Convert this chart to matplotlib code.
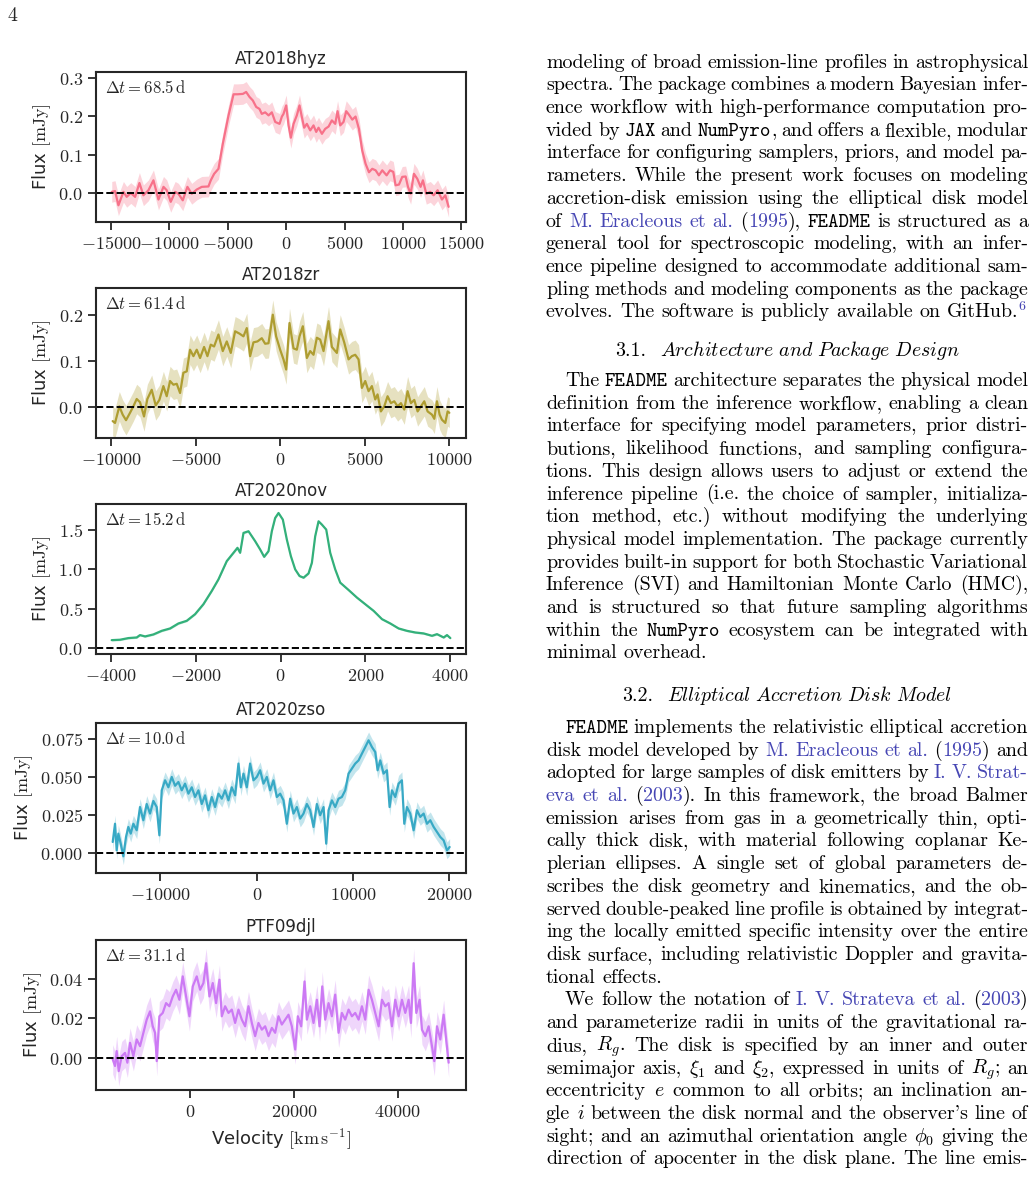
import matplotlib
matplotlib.use("Agg")
import matplotlib.pyplot as plt
import seaborn as sns
import numpy as np
from matplotlib.ticker import FuncFormatter, FixedLocator

# spectra (velocity in km/s, flux in mJy)
hyz_v = [-14940, -14660, -14370, -13940, -13660, -13310, -12940, -12570, -12230, -11800,
         -11370, -10940, -10510, -10230, -9890, -9510, -9230, -8860, -8460, -8090,
         -7660, -7230, -6660, -6460, -6170, -5800, -5430, -4940, -4510, -4170,
         -3710, -3430, -3140, -2860, -2570, -2290, -2090, -1800, -1510, -1230,
         -940, -570, -370, -230, 0, 200, 400, 630, 910, 1140,
         1340, 1540, 1770, 2060, 2340, 2570, 2770, 3060, 3340, 3630,
         3910, 4200, 4400, 4630, 4910, 5140, 5370, 5660, 5940, 6230,
         6510, 6800, 7090, 7370, 7660, 7940, 8230, 8600, 8890, 9170,
         9370, 9660, 9940, 10230, 10430, 10660, 10940, 11230, 11510, 11710,
         12000, 12340, 12630, 12970, 13340, 13630, 13910]
hyz_f = [0.003, 0.005, -0.032, 0.003, -0.010, 0.000, -0.010, 0.026, -0.006, 0.007,
         0.033, -0.017, 0.016, 0.007, -0.023, 0.003, -0.002, -0.019, 0.016, -0.002,
         0.009, 0.016, 0.017, 0.033, 0.050, 0.063, 0.128, 0.202, 0.257, 0.257,
         0.258, 0.263, 0.250, 0.241, 0.224, 0.219, 0.206, 0.210, 0.202, 0.210,
         0.185, 0.180, 0.199, 0.206, 0.228, 0.176, 0.144, 0.180, 0.202, 0.228,
         0.198, 0.170, 0.180, 0.163, 0.176, 0.159, 0.170, 0.154, 0.167, 0.173,
         0.189, 0.180, 0.213, 0.176, 0.185, 0.213, 0.204, 0.191, 0.199, 0.167,
         0.111, 0.076, 0.054, 0.063, 0.059, 0.046, 0.059, 0.046, 0.059, 0.055,
         0.020, 0.022, 0.042, 0.043, 0.016, -0.002, 0.050, 0.037, 0.016, 0.033,
         -0.002, 0.003, -0.006, 0.007, -0.017, -0.006, -0.036]

zr_v = [-9900, -9760, -9505, -9308, -9110, -8874, -8677, -8480, -8282, -8046,
        -7849, -7592, -7356, -7139, -6902, -6705, -6508, -6310, -6113, -5916,
        -5719, -5522, -5324, -5127, -4930, -4733, -4496, -4299, -4102, -3905,
        -3648, -3392, -3155, -2919, -2662, -2406, -2169, -1972, -1775, -1578,
        -1341, -1085, -887, -690, -434, -237, 0, 197, 355, 552,
        789, 986, 1144, 1341, 1578, 1775, 1972, 2169, 2366, 2564,
        2859, 3057, 3352, 3550, 3786, 4043, 4240, 4437, 4634, 4831,
        5029, 5226, 5423, 5620, 5758, 5955, 6153, 6350, 6547, 6744,
        6942, 7139, 7336, 7533, 7730, 7928, 8125, 8322, 8519, 8716,
        8973, 9111, 9268, 9426, 9564, 9761, 9899, 10000]
zr_f = [-0.030, -0.034, 0.002, -0.016, -0.028, -0.012, 0.002, 0.018, 0.011, -0.020,
        0.018, 0.038, 0.004, 0.016, 0.046, 0.024, 0.057, 0.049, 0.051, 0.031,
        0.075, 0.078, 0.125, 0.111, 0.125, 0.107, 0.131, 0.111, 0.136, 0.132,
        0.158, 0.122, 0.143, 0.118, 0.165, 0.160, 0.154, 0.172, 0.111, 0.141,
        0.143, 0.150, 0.138, 0.139, 0.201, 0.154, 0.125, 0.104, 0.082, 0.183,
        0.128, 0.125, 0.154, 0.176, 0.107, 0.122, 0.114, 0.151, 0.147, 0.122,
        0.187, 0.131, 0.118, 0.169, 0.141, 0.104, 0.111, 0.114, 0.104, 0.042,
        0.057, 0.035, 0.046, 0.017, 0.028, -0.009, 0.002, 0.024, 0.009, 0.013,
        0.002, 0.009, -0.005, 0.035, 0.009, 0.016, -0.009, 0.002, 0.013, -0.009,
        -0.016, -0.025, 0.013, -0.016, -0.027, -0.034, -0.009, -0.012]

nov_v = [-3981, -3785, -3588, -3391, -3313, -3194, -2998, -2801, -2604, -2408,
         -2211, -2014, -1818, -1621, -1463, -1267, -1109, -1015, -952, -873,
         -755, -598, -480, -386, -283, -205, -126, -47, 55, 149,
         244, 346, 448, 543, 661, 740, 818, 897, 976, 1078,
         1172, 1290, 1408, 1605, 1802, 1998, 2195, 2392, 2589, 2785,
         2982, 3179, 3375, 3572, 3690, 3847, 3926, 4005]
nov_f = [0.100, 0.105, 0.126, 0.134, 0.164, 0.147, 0.172, 0.218, 0.248, 0.311,
         0.345, 0.429, 0.555, 0.723, 0.870, 1.101, 1.206, 1.269, 1.206, 1.458,
         1.479, 1.353, 1.248, 1.155, 1.227, 1.479, 1.647, 1.710, 1.626, 1.374,
         1.164, 0.996, 0.912, 0.891, 0.945, 1.080, 1.416, 1.605, 1.563, 1.500,
         1.206, 0.996, 0.828, 0.735, 0.639, 0.555, 0.471, 0.366, 0.311, 0.248,
         0.218, 0.197, 0.185, 0.155, 0.176, 0.134, 0.164, 0.126]

zso_v = [-14960, -14720, -14550, -14375, -14130, -13855, -13580, -13335, -13090, -12815,
         -12470, -12125, -11780, -11430, -11085, -10740, -10395, -10115, -9870, -9525,
         -9180, -8830, -8485, -8140, -7795, -7450, -7100, -6755, -6410, -6060,
         -5715, -5370, -5025, -4675, -4330, -3985, -3635, -3290, -2945, -2600,
         -2250, -1905, -1660, -1385, -1040, -695, -345, 0, 345, 695,
         1040, 1385, 1730, 2080, 2425, 2770, 3115, 3465, 3810, 4155,
         4505, 4850, 5195, 5540, 5890, 6235, 6580, 6930, 7205, 7450,
         7795, 8140, 8485, 8830, 9180, 9525, 9870, 10220, 10565, 10910,
         11260, 11605, 11950, 12295, 12540, 12815, 13160, 13510, 13785, 14030,
         14375, 14720, 15065, 15310, 15585, 15930, 16280, 16625, 16970, 17320,
         17665, 18010, 18360, 18705, 19050, 19395, 19745, 20020]
zso_f = [0.0070, 0.0190, 0.0015, 0.0125, 0.0060, -0.0024, 0.0103, 0.0169, 0.0125, 0.0190,
         0.0147, 0.0300, 0.0213, 0.0320, 0.0257, 0.0340, 0.0300, 0.0114, 0.0410, 0.0476,
         0.0430, 0.0498, 0.0440, 0.0465, 0.0410, 0.0454, 0.0388, 0.0430, 0.0366, 0.0410,
         0.0320, 0.0377, 0.0279, 0.0366, 0.0300, 0.0388, 0.0355, 0.0410, 0.0344, 0.0430,
         0.0377, 0.0586, 0.0430, 0.0520, 0.0430, 0.0586, 0.0476, 0.0498, 0.0542, 0.0454,
         0.0498, 0.0410, 0.0476, 0.0366, 0.0388, 0.0344, 0.0190, 0.0355, 0.0257, 0.0300,
         0.0224, 0.0257, 0.0320, 0.0279, 0.0169, 0.0320, 0.0246, 0.0300, 0.0059, 0.0279,
         0.0344, 0.0300, 0.0355, 0.0366, 0.0410, 0.0520, 0.0553, 0.0586, 0.0607, 0.0651,
         0.0695, 0.0739, 0.0695, 0.0662, 0.0542, 0.0607, 0.0520, 0.0542, 0.0300, 0.0410,
         0.0366, 0.0454, 0.0476, 0.0190, 0.0300, 0.0257, 0.0147, 0.0279, 0.0235, 0.0257,
         0.0190, 0.0213, 0.0169, 0.0136, 0.0103, 0.0081, 0.0015, 0.0037]

djl_v = [-14920, -14470, -14150, -13760, -13180, -12540, -12090, -11575, -10930, -10290,
         -9650, -9000, -8360, -7720, -7200, -6750, -6430, -5920, -5270, -4630,
         -3990, -3340, -2700, -2060, -1415, -770, -130, 515, 1285, 1930,
         2570, 3090, 3730, 4370, 5015, 5660, 6110, 6750, 7400, 8040,
         8680, 9325, 9970, 10610, 11250, 11900, 12540, 13180, 13830, 14470,
         15110, 15760, 16400, 17040, 17680, 18330, 18970, 19610, 20260, 20770,
         21410, 22060, 22510, 23150, 23790, 24440, 24950, 25470, 26040, 26690,
         27330, 27970, 28620, 29260, 29900, 30550, 31190, 31830, 32480, 33120,
         33760, 34410, 35050, 35690, 36340, 36980, 37620, 38260, 38910, 39550,
         40190, 40840, 41480, 42120, 42570, 43090, 43600, 44240, 44690, 45340,
         45980, 46620, 47070, 47590, 48230, 48870, 49390, 49840]
djl_f = [-0.0008, -0.0042, 0.0034, -0.0068, 0.0008, 0.0025, -0.0025, 0.0076, 0.0008, 0.0093,
         0.0059, 0.0127, 0.0194, 0.0236, 0.0160, 0.0127, -0.0017, 0.0211, 0.0228, 0.0278,
         0.0262, 0.0312, 0.0346, 0.0295, 0.0414, 0.0312, 0.0211, 0.0363, 0.0414, 0.0346,
         0.0380, 0.0481, 0.0312, 0.0380, 0.0278, 0.0397, 0.0211, 0.0262, 0.0228, 0.0245,
         0.0177, 0.0245, 0.0194, 0.0160, 0.0262, 0.0177, 0.0110, 0.0177, 0.0143, 0.0160,
         0.0110, 0.0152, 0.0127, 0.0211, 0.0169, 0.0194, 0.0219, 0.0160, 0.0042, 0.0211,
         0.0160, 0.0388, 0.0194, 0.0262, 0.0177, 0.0295, 0.0160, 0.0363, 0.0194, 0.0278,
         0.0211, 0.0321, 0.0127, 0.0228, 0.0194, 0.0245, 0.0211, 0.0228, 0.0194, 0.0262,
         0.0194, 0.0346, 0.0295, 0.0228, 0.0160, 0.0295, 0.0262, 0.0278, 0.0160, 0.0295,
         0.0211, 0.0295, 0.0228, 0.0295, 0.0177, 0.0481, 0.0228, 0.0295, 0.0143, 0.0110,
         0.0160, 0.0059, -0.0017, 0.0160, 0.0093, 0.0219, 0.0084, -0.0025]

names = ["AT2018hyz", "AT2018zr", "AT2020nov", "AT2020zso", "PTF09djl"]
delta_t = [68.5, 61.4, 15.2, 10.0, 31.1]
flux_err = [0.027, 0.032, 0.012, 0.0055, 0.0075]
velocities = [hyz_v, zr_v, nov_v, zso_v, djl_v]
fluxes = [hyz_f, zr_f, nov_f, zso_f, djl_f]

x_ticks = [[-15000, -10000, -5000, 0, 5000, 10000, 15000],
           [-10000, -5000, 0, 5000, 10000],
           [-4000, -2000, 0, 2000, 4000],
           [-10000, 0, 10000, 20000],
           [0, 20000, 40000]]
y_ticks = [[0.0, 0.1, 0.2, 0.3],
           [0.0, 0.1, 0.2],
           [0.0, 0.5, 1.0, 1.5],
           [0.0, 0.025, 0.05, 0.075],
           [0.0, 0.02, 0.04]]
y_fmt = ["%.1f", "%.1f", "%.1f", "%.3f", "%.2f"]
x_lims = [(-16290, 15400), (-10885, 10985), (-4351, 4374), (-16695, 21718), (-18135, 53180)]
y_lims = [(-0.0755, 0.315), (-0.0667, 0.259), (-0.0756, 1.824), (-0.0134, 0.0853), (-0.0164, 0.0599)]

sns.set_style("ticks")
plt.rcParams["font.family"] = ["DejaVu Sans"]
plt.rcParams["mathtext.fontset"] = "cm"

W, H = 1036, 1177
fig = plt.figure(figsize=(W / 100, H / 100), dpi=100)
colors = sns.color_palette("husl", 5)

panel_tops = [72, 288, 504, 723, 940]
for i in range(5):
    ax = fig.add_axes([96 / W, 1 - (panel_tops[i] + 150) / H, 370 / W, 150 / H])
    v = np.array(velocities[i])
    f = np.array(fluxes[i])
    ax.fill_between(v, f - flux_err[i], f + flux_err[i], color=colors[i], alpha=0.3, lw=0)
    ax.plot(v, f, color=colors[i], lw=1.6)
    ax.axhline(0, color="black", ls="--", lw=1.4)
    ax.set_xlim(*x_lims[i])
    ax.set_ylim(*y_lims[i])
    ax.xaxis.set_major_locator(FixedLocator(x_ticks[i]))
    ax.yaxis.set_major_locator(FixedLocator(y_ticks[i]))
    ax.xaxis.set_major_formatter(FuncFormatter(lambda x, p: r"$%d$" % x))
    fmt = y_fmt[i]
    ax.yaxis.set_major_formatter(FuncFormatter(lambda y, p, fmt=fmt: "$" + fmt % y + "$"))
    ax.tick_params(labelsize=13, length=6, width=1.3, colors=".15")
    for s in ax.spines.values():
        s.set_linewidth(1.5)
        s.set_color(".15")
    ax.set_title(names[i], fontsize=12, color=".15")
    ax.set_ylabel(r"Flux $[\mathrm{mJy}]$", fontsize=13, color=".15")
    ax.text(0.025, 0.955, r"$\Delta t = %.1f\,\mathrm{d}$" % delta_t[i], transform=ax.transAxes,
            va="top", ha="left", fontsize=12, color=".15")
    if i == 4:
        ax.set_xlabel(r"Velocity $[\mathrm{km\,s^{-1}}]$", fontsize=13, color=".15")

# ---- right column text ----
para_a = [
    "modeling of broad emission-line profiles in astrophysical",
    "spectra. The package combines a modern Bayesian infer-",
    "ence workflow with high-performance computation pro-",
    "vided by `JAX` and `NumPyro`, and offers a flexible, modular",
    "interface for configuring samplers, priors, and model pa-",
    "rameters. While the present work focuses on modeling",
    "accretion-disk emission using the elliptical disk model",
    "of <M. Eracleous et al.> (<1995>), `FEADME` is structured as a",
    "general tool for spectroscopic modeling, with an infer-",
    "ence pipeline designed to accommodate additional sam-",
    "pling methods and modeling components as the package",
    "evolves. The software is publicly available on GitHub.^6^",
]
para_b = [
    "The `FEADME` architecture separates the physical model",
    "definition from the inference workflow, enabling a clean",
    "interface for specifying model parameters, prior distri-",
    "butions, likelihood functions, and sampling configura-",
    "tions. This design allows users to adjust or extend the",
    "inference pipeline (i.e. the choice of sampler, initializa-",
    "tion method, etc.) without modifying the underlying",
    "physical model implementation. The package currently",
    "provides built-in support for both Stochastic Variational",
    "Inference (SVI) and Hamiltonian Monte Carlo (HMC),",
    "and is structured so that future sampling algorithms",
    "within the `NumPyro` ecosystem can be integrated with",
    "minimal overhead.",
]
para_c = [
    "`FEADME` implements the relativistic elliptical accretion",
    "disk model developed by <M. Eracleous et al.> (<1995>) and",
    "adopted for large samples of disk emitters by <I. V. Strat->",
    "<eva et al.> (<2003>). In this framework, the broad Balmer",
    "emission arises from gas in a geometrically thin, opti-",
    "cally thick disk, with material following coplanar Ke-",
    "plerian ellipses. A single set of global parameters de-",
    "scribes the disk geometry and kinematics, and the ob-",
    "served double-peaked line profile is obtained by integrat-",
    "ing the locally emitted specific intensity over the entire",
    "disk surface, including relativistic Doppler and gravita-",
    "tional effects.",
]
para_d = [
    "We follow the notation of <I. V. Strateva et al.> (<2003>)",
    "and parameterize radii in units of the gravitational ra-",
    r"dius, $R_g$. The disk is specified by an inner and outer",
    r"semimajor axis, $\xi_1$ and $\xi_2$, expressed in units of $R_g$; an",
    r"eccentricity $e$ common to all orbits; an inclination an-",
    r"gle $i$ between the disk normal and the observer's line of",
    r"sight; and an azimuthal orientation angle $\phi_0$ giving the",
    "direction of apocenter in the disk plane. The line emis-",
]

body = 14.35
link_blue = "#4646b4"
col_x0, col_x1 = 546, 1028
lead = 22.7
renderer = fig.canvas.get_renderer()


def style_kw(style):
    if style == "tt":
        return dict(family="cmtt10", color="black", fontsize=body)
    if style == "link":
        return dict(family="cmr10", color=link_blue, fontsize=body)
    if style == "sup":
        return dict(family="cmr10", color=link_blue, fontsize=body * 0.7)
    return dict(family="cmr10", color="black", fontsize=body)


def split_words(line):
    words, runs, buf, style, in_math = [], [], "", "rm", False
    toggles = {"`": "tt", "^": "sup"}
    for ch in line + " ":
        if ch == "$":
            in_math = not in_math
            buf += ch
            continue
        if in_math:
            buf += ch
            continue
        if ch in "`<>^":
            if buf:
                runs.append((buf, style))
                buf = ""
            if ch in toggles:
                style = "rm" if style == toggles[ch] else toggles[ch]
            else:
                style = "link" if ch == "<" else "rm"
            continue
        if ch == " ":
            if buf:
                runs.append((buf, style))
                buf = ""
            if runs:
                words.append(runs)
                runs = []
            continue
        buf += ch
    return words


def draw_line(line, yc, x0, justify):
    words = split_words(line)
    items = []
    for w in words:
        arts = []
        for txt, st in w:
            t = fig.text(0, 0, txt, va="baseline", ha="left", **style_kw(st))
            arts.append((t, st, t.get_window_extent(renderer).width))
        items.append(arts)
    wsum = sum(a[2] for arts in items for a in arts)
    if justify and len(items) > 1:
        gap = (col_x1 - x0 - wsum) / (len(items) - 1)
    else:
        gap = 0.333 * body * 100 / 72
    x = x0
    base = yc + 6
    for arts in items:
        for t, st, wd in arts:
            dy = -7 if st == "sup" else 0
            t.set_position((x / W, 1 - (base + dy) / H))
            x += wd
        x += gap


def draw_para(lines, y0, indent, justify_last):
    for k, line in enumerate(lines):
        last = k == len(lines) - 1
        draw_line(line, y0 + k * lead, col_x0 + (19 if (indent and k == 0) else 0),
                  justify=(not last) or justify_last)


def draw_heading(num, title, yc):
    t1 = fig.text(0, 0, num, va="baseline", ha="left", **style_kw("rm"))
    t2 = fig.text(0, 0, r"$\mathit{" + title.replace(" ", r"\ ") + "}$",
                  va="baseline", ha="left", fontsize=body, color="black")
    w1 = t1.get_window_extent(renderer).width
    w2 = t2.get_window_extent(renderer).width
    x = (col_x0 + col_x1) / 2 - (w1 + 14 + w2) / 2
    t1.set_position((x / W, 1 - (yc + 6) / H))
    t2.set_position(((x + w1 + 14) / W, 1 - (yc + 6) / H))


draw_para(para_a, 61.7, False, False)
draw_heading("3.1.", "Architecture and Package Design", 350)
draw_para(para_b, 380, True, False)
draw_heading("3.2.", "Elliptical Accretion Disk Model", 695)
draw_para(para_c, 727, True, False)
draw_para(para_d, 727 + 12 * lead, True, True)

fig.text(7 / W, 1 - 21 / H, "4", family="cmr10", fontsize=body, va="baseline", ha="left")

fig.savefig("out.png", dpi=100)
